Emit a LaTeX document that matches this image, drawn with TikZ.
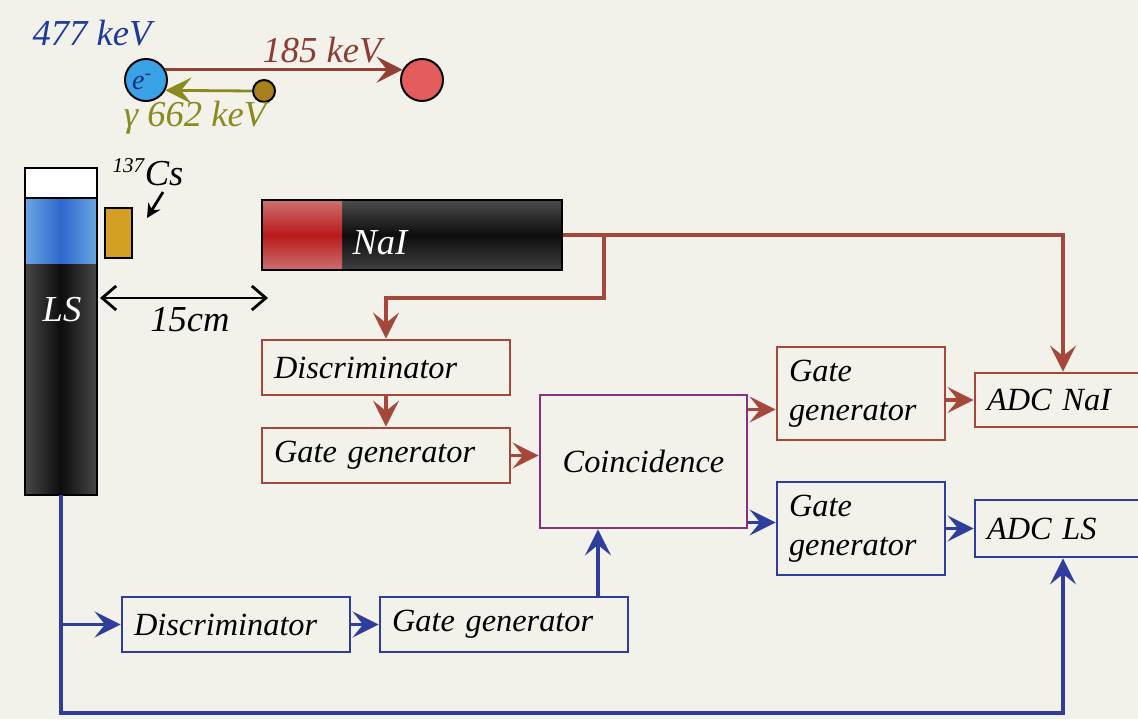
\documentclass[tikz,border=0pt]{standalone}
\usepackage{fontspec}
\setmainfont{Liberation Serif}
\usetikzlibrary{positioning,arrows.meta,calc}

\definecolor{paper}{HTML}{F2F2EA}
\definecolor{naired}{HTML}{A5473B}
\definecolor{lsblue}{HTML}{2F3E9C}
\definecolor{coincpurple}{HTML}{87307F}
\definecolor{eblue}{HTML}{1E3A9A}
\definecolor{gammaolive}{HTML}{8A8A1E}
\definecolor{srcgold}{HTML}{D4A024}
\definecolor{electron}{HTML}{3AA2E6}
\definecolor{lsedge}{HTML}{6AA6E2}
\definecolor{lscore}{HTML}{2F68CC}

\begin{document}
\begin{tikzpicture}[
    box/.style={draw,line width=2pt,fill=paper,minimum height=1.375cm,inner xsep=0.3cm,align=left,anchor=center,font=\fontsize{23}{28}\selectfont\itshape},
    naibox/.style={box,draw=naired},
    lsbox/.style={box,draw=lsblue},
    sig/.style={line width=2.6pt,-{Stealth[length=6.5mm,width=6.5mm,inset=2.6mm]}},
    label/.style={font=\fontsize{26}{30}\selectfont\itshape},
]
\clip (0,0) rectangle (28.45,17.975);
\fill[paper] (0,0) rectangle (28.45,17.975);

% particles
\node[circle,draw,line width=1.4pt,fill=electron,minimum size=1.05cm,inner sep=0pt] (e) at (3.65,15.975) {};
\node[eblue!80!black,font=\fontsize{20}{20}\selectfont\itshape] at (3.55,15.93) {e\textsuperscript{-}};
\node[circle,draw,line width=1.4pt,fill=red!60!white!90!black,minimum size=1.05cm] (recoil) at (10.55,15.975) {};
\node[circle,draw,line width=1.4pt,fill=srcgold!80!black,minimum size=0.55cm,inner sep=0pt] (gam) at (6.6,15.7) {};
\draw[sig,naired!90!black,line width=2pt] (e.28) -- (recoil.152);
\draw[sig,gammaolive,line width=2pt] (gam.west) -- (e.-28);
\node[label,eblue] at (2.3,17.15) {477 keV};
\node[label,naired!85!black] at (8.05,16.725) {185 keV};
\node[label,gammaolive] at (4.875,15.025) {γ 662 keV};

% liquid scintillator tube
\draw[line width=1.4pt,fill=white] (0.625,13.025) rectangle (2.425,13.775);
\shade[left color=lsedge,right color=lsedge,middle color=lscore] (0.625,11.35) rectangle (2.425,13.025);
\shade[left color=black!72,right color=black!72,middle color=black!95] (0.625,5.6) rectangle (2.425,11.35);
\draw[line width=1.4pt] (0.625,5.6) rectangle (2.425,13.025);
\node[label,white] (ls) at (1.55,10.225) {LS};
\coordinate (lsbot) at (1.525,5.6);

% source
\draw[line width=1.4pt,fill=srcgold] (2.625,11.525) rectangle (3.3,12.775);
\node[label] (cs) at (3.7,13.675) {\textsuperscript{\fontsize{15}{15}\selectfont 137}Cs};
\draw[line width=2pt,-{Stealth[length=3.5mm,width=3.5mm]}] (4.075,13.175) -- (3.675,12.525);
\draw[line width=2pt,{Straight Barb[length=3.5mm,width=6mm]}-{Straight Barb[length=3.5mm,width=6mm]}] (2.5,10.525) -- (6.7,10.525);
\node[label] at (4.75,9.975) {15cm};

% NaI detector
\shade[top color=black!70,bottom color=black!75,middle color=black!95] (8.55,11.225) rectangle (14.05,12.975);
\shade[top color=red!45!white!80!black,bottom color=red!45!white!80!black,middle color=red!70!black!90] (6.55,11.225) rectangle (8.55,12.975);
\node[draw,line width=1.4pt,minimum width=7.5cm,minimum height=1.75cm] (nai) at (10.3,12.1) {};
\node[label,white] at (9.5,11.9) {NaI};

% NaI branch
\node[naibox,text width=5.6cm] (discN) at (9.65,8.7875) {Discriminator};
\node[naibox,text width=5.6cm] (gateN) at (9.65,6.5875) {Gate generator};
\node[box,draw=coincpurple,minimum width=5.175cm,minimum height=3.325cm,align=center] (coinc) at (16.0875,6.4375) {Coincidence};
\node[naibox,text width=3.6cm,minimum height=2.325cm] (gateNN) at (21.525,8.1375) {Gate\\generator};
\node[naibox,text width=3.8cm,minimum height=1.35cm] (adcN) at (26.575,7.975) {ADC NaI};

% LS branch
\node[lsbox,text width=5.1cm] (discL) at (5.9,2.3625) {Discriminator};
\node[lsbox,text width=5.6cm] (gateL) at (12.6,2.3625) {Gate generator};
\node[lsbox,text width=3.6cm,minimum height=2.325cm] (gateLL) at (21.525,4.7625) {Gate\\generator};
\node[lsbox,text width=3.8cm,minimum height=1.425cm] (adcL) at (26.575,4.7625) {ADC LS};

\coordinate (split) at (15.1,10.525);
\coordinate (floor) at (1.525,0.15);

% NaI signals
\draw[sig,naired] (nai.east) -| (adcN.north);
\draw[sig,naired] (split |- nai.east) -- (split) -| (discN.north);
\draw[sig,naired] (discN) -- (gateN);
\draw[sig,naired] (gateN.east) -- (coinc.west |- gateN.east);
\draw[sig,naired] ([yshift=-0.4cm]gateNN.west -| coinc.east) -- ([yshift=-0.4cm]gateNN.west);
\draw[sig,naired] (gateNN.east |- adcN.west) -- (adcN.west);

% LS signals
\draw[sig,lsblue] (lsbot) -- (floor) -| (adcL.south);
\draw[sig,lsblue] (lsbot |- discL.west) -- (discL.west);
\draw[sig,lsblue] (discL) -- (gateL);
\draw[sig,lsblue] ([xshift=2.35cm]gateL.north) -- ([xshift=2.35cm]gateL.north |- coinc.south);
\draw[sig,lsblue] ([yshift=0.15cm]gateLL.west -| coinc.east) -- ([yshift=0.15cm]gateLL.west);
\draw[sig,lsblue] (gateLL) -- (adcL);
\end{tikzpicture}
\end{document}
